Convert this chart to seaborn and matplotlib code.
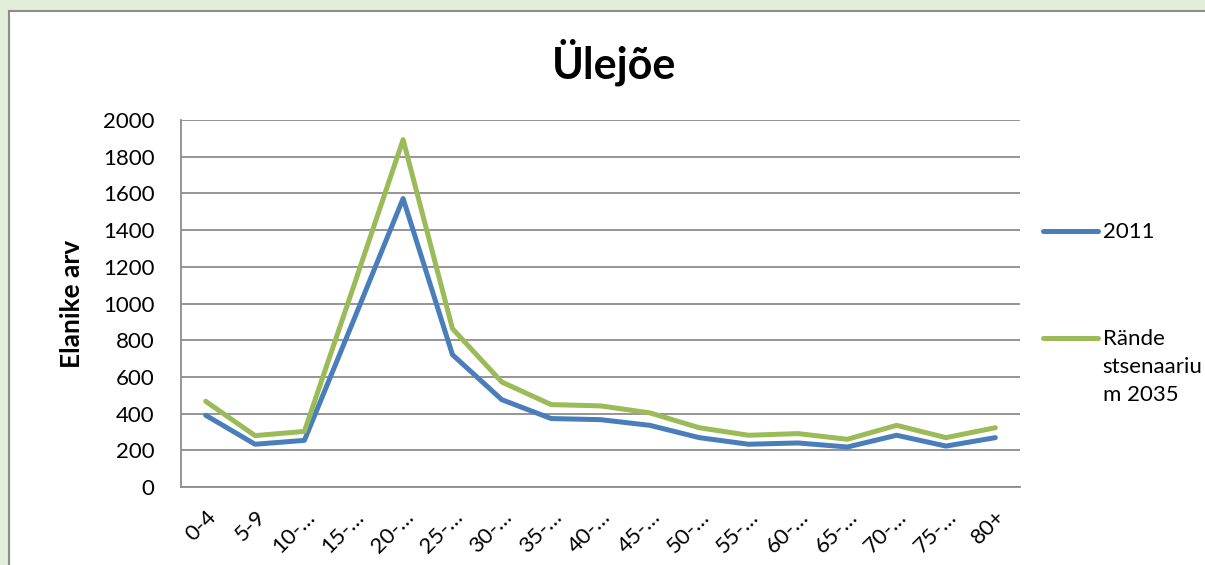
import matplotlib
matplotlib.use("Agg")
import matplotlib.pyplot as plt
import matplotlib.patches as mpatches
import pandas as pd
import seaborn as sns

age_groups = ["0-4", "5-9", "10-…", "15-…", "20-…", "25-…", "30-…", "35-…", "40-…",
              "45-…", "50-…", "55-…", "60-…", "65-…", "70-…", "75-…", "80+"]
pop_2011 = [391, 233, 254, 910, 1572, 721, 476, 373, 367, 336, 269, 233, 240, 218, 282, 223, 269]
pop_2035 = [467, 280, 303, 1095, 1893, 863, 572, 449, 442, 404, 323, 282, 291, 260, 336, 269, 323]
series_names = ["2011", "Rände\nstsenaariu\nm 2035"]
series_colors = ["#4a7ebb", "#9bbb59"]

df = pd.DataFrame({
    "age": age_groups * 2,
    "pos": list(range(len(age_groups))) * 2,
    "value": pop_2011 + pop_2035,
    "series": [series_names[0]] * len(age_groups) + [series_names[1]] * len(age_groups),
})

sns.set_style("white")
plt.rcParams["font.family"] = ["Lato", "DejaVu Sans"]
plt.rcParams["text.color"] = "black"
plt.rcParams["xtick.color"] = "black"
plt.rcParams["ytick.color"] = "black"
plt.rcParams["axes.labelcolor"] = "black"

fig = plt.figure(figsize=(12.05, 5.65), dpi=100, facecolor="#e2eed9")
# white chart area with grey frame (cut at right and bottom like the original)
fig.patches.append(mpatches.Rectangle(
    (9 / 1205, -0.1), 1.2, 0.1 + 1 - 11 / 565, transform=fig.transFigure,
    facecolor="white", edgecolor="#8c8c8c", linewidth=1.5, zorder=-5))

ax = fig.add_axes([181 / 1205, 1 - 487 / 565, 839 / 1205, 367 / 565])
ax.set_facecolor("none")

sns.lineplot(data=df, x="pos", y="value", hue="series", hue_order=series_names,
             palette=series_colors, linewidth=3.6, ax=ax, legend=True)
for ln in ax.get_lines():
    ln.set_solid_joinstyle("round")
    ln.set_solid_capstyle("round")

ax.set_xlim(-0.5, len(age_groups) - 0.5)
ax.set_ylim(0, 2000)
ax.set_yticks(range(0, 2001, 200))
ax.set_xticks(range(len(age_groups)))
ax.set_xticklabels(age_groups, rotation=45, ha="right", rotation_mode="anchor")
ax.yaxis.grid(True, color="#8c8c8c", linewidth=1.3)
ax.set_axisbelow(True)
for side in ["top", "right"]:
    ax.spines[side].set_visible(False)
for side in ["left", "bottom"]:
    ax.spines[side].set_color("#8c8c8c")
    ax.spines[side].set_linewidth(1.3)
ax.tick_params(axis="y", length=0, pad=19, labelsize=16)
ax.tick_params(axis="x", length=0, pad=14, labelsize=16)

ax.set_xlabel("")
ax.set_ylabel("Elanike arv", fontsize=19, fontweight="bold", labelpad=14)

leg = ax.legend(loc="upper left", bbox_to_anchor=(1.0274, 0.722), frameon=False,
                fontsize=16, handlelength=2.48, handletextpad=0.2, borderpad=0,
                borderaxespad=0, labelspacing=3.79, handleheight=1.2)
for col in leg._legend_handle_box.get_children():
    for row in col.get_children():
        row.align = "top"
for t in leg.get_texts():
    t.set_linespacing(1.5)

fig.text(0.51, 1 - 62 / 565, "Ülejõe", ha="center", va="center",
         fontsize=31, fontweight="bold")

fig.savefig("out.png", dpi=100, facecolor=fig.get_facecolor())
